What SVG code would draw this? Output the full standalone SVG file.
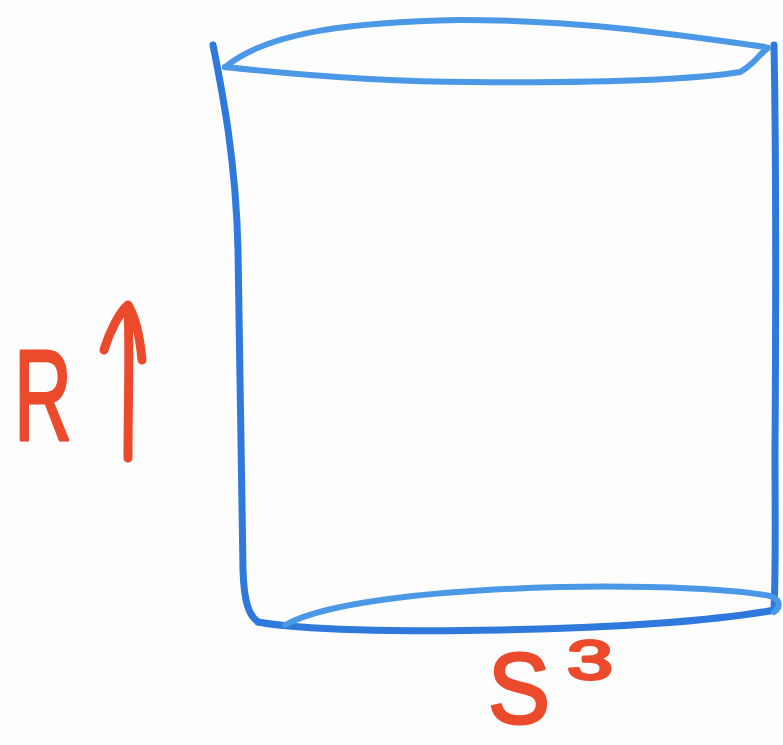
<svg xmlns="http://www.w3.org/2000/svg" width="783" height="745" viewBox="0 0 783 745">
<style>
.blue{fill:none;stroke:#2f78dc;stroke-width:7;stroke-linecap:round;stroke-linejoin:round}
.light{fill:none;stroke:#4a98e6;stroke-width:6;stroke-linecap:round}
.red{fill:none;stroke:#ec4a2c;stroke-width:9;stroke-linecap:round;stroke-linejoin:round}
.lbl{font-family:"Liberation Sans",Arial,sans-serif;fill:#ec4a2c;stroke:#ec4a2c;stroke-width:3;stroke-linejoin:round}
</style>
<rect width="783" height="745" fill="#fdfdfd"/>
<g id="cylinder">
<path class="blue" d="M213,45 C222,90 236,160 238,250 C240,350 241,470 243,570 C244,600 248,615 258,622"/>
<path class="blue" d="M774,45 C776,150 776,300 775,450 C775,520 776,570 774,608"/>
<path class="light" d="M225,67 C270,30 360,22 460,20 C580,20 680,35 765,47"/>
<path class="light" d="M225,67 C300,75 380,82 470,82 C590,83 690,80 740,72 C755,64 758,55 768,48"/>
<path class="blue" d="M258,622 C300,630 400,632 500,630 C620,628 720,620 775,610"/>
<path class="light" d="M285,625 C330,600 450,590 560,587 C660,585 740,590 770,596 C782,600 780,608 774,612"/>
</g>
<g id="axis-R">
<text class="lbl" x="14" y="440" font-size="130" textLength="58" lengthAdjust="spacingAndGlyphs">R</text>
<path class="red" d="M128,458 C128,400 130,350 128,308"/>
<path class="red" d="M104,350 C110,330 120,312 128,305 C136,318 140,338 142,360"/>
</g>
<g id="label-S3">
<text class="lbl" x="488" y="723" font-size="100" textLength="62" lengthAdjust="spacingAndGlyphs">S</text>
<text class="lbl" x="567" y="679" font-size="56" textLength="46" lengthAdjust="spacingAndGlyphs">3</text>
</g>
</svg>
